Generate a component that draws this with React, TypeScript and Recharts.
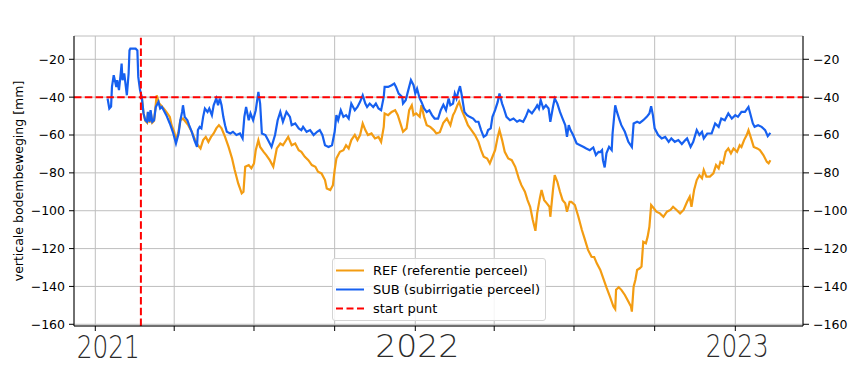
import { LineChart, Line, XAxis, YAxis, CartesianGrid, ReferenceLine, Legend } from "recharts";

// x = days since 1 Jan 2021, y = soil movement in mm
const subDay = [
  14, 16, 18, 19, 21, 24, 25, 27, 29, 30,
  31, 33, 36, 38, 39, 40, 46, 48, 49, 51,
  53, 55, 57, 59, 60, 62, 63, 65, 67, 69,
  72, 74, 76, 78, 81, 85, 89, 92, 95, 97,
  99, 100, 102, 105, 107, 110, 113, 116, 117, 119,
  121, 123, 125, 128, 130, 133, 135, 138, 140, 142,
  144, 146, 148, 150, 154, 157, 161, 165, 168, 170,
  172, 175, 177, 180, 183, 186, 188, 190, 194, 197,
  201, 205, 208, 211, 214, 218, 222, 224, 228, 232,
  235, 237, 241, 245, 249, 253, 256, 259, 262, 266,
  270, 273, 275, 277, 280, 283, 286, 289, 292, 296,
  299, 302, 305, 308, 310, 313, 317, 320, 323, 326,
  329, 330, 334, 338, 341, 343, 346, 350, 351, 354,
  357, 360, 363, 365, 367, 370, 372, 375, 378, 381,
  384, 387, 391, 394, 397, 400, 403, 405, 408, 410,
  412, 414, 416, 418, 421, 424, 427, 431, 434, 437,
  440, 443, 446, 448, 451, 453, 456, 459, 461, 464,
  466, 469, 473, 477, 481, 484, 488, 491, 494, 498,
  502, 504, 506, 508, 511, 514, 517, 519, 522, 524,
  527, 530, 533, 536, 538, 540, 542, 545, 549, 553,
  557, 560, 564, 568, 571, 574, 576, 578, 579, 581,
  583, 586, 589, 590, 593, 595, 598, 600, 604, 608,
  612, 614, 618, 621, 625, 629, 632, 634, 636, 638,
  642, 646, 650, 654, 657, 661, 665, 669, 673, 675,
  679, 682, 686, 689, 692, 694, 698, 703, 707, 711,
  714, 718, 722, 726, 730, 733, 737, 741, 745, 747,
  750, 752, 756, 760, 764, 767, 770,
];
const subMm = [
  -40.7, -46, -45, -34.6, -28.4, -34.6, -31, -36.3, -27.5, -22.3,
  -31, -27.5, -39, -27.5, -15.3, -14.4, -14.4, -15.3, -29.3, -36.3,
  -39.9, -48.6, -52.2, -53, -47.8, -53, -46.9, -53, -52.2, -45.2,
  -42.5, -46, -45.2, -46.9, -49.5, -53.9, -59.2, -64.5, -59.2, -52.2,
  -47.8, -44.3, -50.4, -52.2, -54.8, -58.3, -62.7, -66.3, -57.4, -55.7,
  -56.5, -50.4, -46, -47.8, -46, -49.5, -44.3, -40.7, -44.3, -40.7,
  -44.3, -50.4, -54.8, -58.3, -59.2, -58.3, -60, -59.2, -61.8, -50.4,
  -45.2, -52.2, -48.6, -52.2, -46.9, -37.2, -43.4, -59.2, -60, -62.7,
  -66.3, -60, -52.2, -47.8, -53, -47.8, -50.4, -54.8, -53.9, -56.5,
  -57.4, -55.7, -58.3, -57.4, -60, -58.3, -57.4, -60, -65.4, -66.3,
  -65.4, -58.3, -49.5, -52.2, -46.9, -50.4, -49.5, -51.3, -43.4, -46.9,
  -45.2, -42.5, -39, -43.4, -45.2, -43.4, -45.2, -43.4, -46, -46.9,
  -39.9, -34.6, -34.6, -33.7, -32.8, -34.6, -38.1, -39.9, -43.4, -41.6,
  -36.3, -31, -33.7, -38.1, -35.5, -40.7, -42.5, -46, -47.8, -46.9,
  -49.5, -51.3, -51.3, -46.9, -44, -46.9, -40.7, -44.3, -43.4, -38.1,
  -40.7, -37.2, -34.2, -39, -47.8, -49.5, -50.4, -51.3, -53, -53,
  -57.4, -61, -60, -57.4, -56.5, -50.4, -46.9, -42.5, -38.1, -43.4,
  -46, -50.4, -52.2, -51.3, -53, -52.2, -53, -50.4, -46.9, -48.6,
  -46, -44.3, -46, -41.6, -46, -44.3, -46, -53, -45.2, -40.7,
  -43.4, -47.8, -51.3, -54.8, -61, -54.8, -57.4, -60, -64.5, -65.4,
  -66.3, -67.1, -68, -66.6, -70.6, -68.9, -69, -68, -73.3, -77.1,
  -69.7, -66.3, -68, -59.2, -44.3, -47.8, -52.2, -54.8, -58.3, -63.6,
  -66.3, -53.9, -53, -53.6, -52.2, -50.4, -48.6, -44.8, -49.5, -56.5,
  -60, -61.8, -61, -63.6, -61.8, -63.6, -62.7, -64.8, -62.7, -61.8,
  -66.3, -63.6, -57.4, -60, -58.3, -61.8, -59.2, -59.2, -53.9, -55.7,
  -51.3, -52.2, -48.6, -51.3, -49.5, -50.4, -47.8, -47.8, -45.2, -48.6,
  -53.9, -55.7, -54.8, -55.7, -57.4, -60.6, -58.9,
];

const refDay = [
  53, 55, 57, 59, 60, 62, 63, 65, 67, 70,
  73, 78, 81, 85, 87, 90, 92, 95, 97, 100,
  103, 106, 110, 114, 117, 120, 123, 126, 129, 132,
  135, 138, 141, 144, 148, 152, 156, 159, 163, 167,
  169, 171, 175, 178, 181, 183, 186, 188, 192, 195,
  199, 203, 207, 211, 214, 220, 224, 228, 232, 235,
  239, 243, 247, 251, 254, 258, 262, 264, 268, 271,
  273, 275, 279, 283, 286, 289, 292, 296, 299, 302,
  305, 308, 311, 315, 319, 323, 326, 329, 330, 334,
  338, 342, 345, 348, 351, 355, 358, 361, 363, 366,
  370, 372, 375, 378, 382, 386, 389, 393, 397, 401,
  405, 408, 410, 413, 415, 418, 422, 425, 429, 433,
  437, 440, 443, 447, 450, 453, 456, 459, 461, 464,
  467, 471, 475, 479, 483, 486, 490, 493, 496, 499,
  502, 504, 507, 509, 512, 515, 518, 519, 522, 524,
  527, 530, 533, 536, 538, 541, 543, 547, 551, 555,
  558, 562, 566, 569, 572, 576, 579, 583, 587, 591,
  593, 594, 597, 600, 604, 608, 611, 612, 614, 616,
  618, 621, 623, 625, 628, 630, 632, 634, 637, 640,
  644, 648, 652, 656, 659, 663, 667, 671, 675, 678,
  680, 683, 686, 689, 692, 694, 697, 701, 705, 708,
  711, 713, 716, 719, 722, 725, 728, 732, 735, 737,
  740, 743, 745, 748, 751, 755, 758, 762, 766, 768, 770,
];
const refMm = [
  -40, -48.6, -52.5, -53.5, -48, -53.5, -47.5, -53.5, -52.5, -39,
  -43.4, -46, -47.8, -50.4, -54.8, -58.3, -62.7, -58, -52.2, -51.3,
  -53, -54.8, -58.3, -62.7, -65.4, -67.1, -62.7, -61, -63.6, -61,
  -59.2, -56.5, -54.8, -56.5, -61, -66.3, -72.4, -78.5, -85.6, -90.8,
  -90, -76.8, -75.9, -77.6, -75, -68, -62.7, -66.3, -68.9, -70.6,
  -73.3, -76.8, -67.1, -64.5, -65.4, -61, -65.4, -64.5, -68, -68.9,
  -71.5, -73.3, -75.9, -76.8, -79.4, -80.3, -83.8, -88.2, -89.1, -86.5,
  -78.5, -72.4, -68.9, -68, -65.4, -67.1, -62.7, -60, -62.7, -60,
  -53.9, -57.4, -60, -59.2, -61.8, -61, -63.6, -55.7, -48.6, -49.5,
  -47.8, -46.9, -49.5, -53.9, -58.3, -56.5, -46.9, -44.3, -49.5, -48.6,
  -50.4, -44.3, -50.4, -54.8, -55.7, -57.4, -59.2, -58.5, -53.5, -51.3,
  -54.8, -49.5, -47.8, -44.3, -42.5, -46.9, -51.3, -54.8, -57.4, -60,
  -63.6, -68, -71.5, -72.4, -75, -71.5, -68, -61, -57.4, -62.7,
  -68.9, -72.4, -73.3, -76.8, -82.9, -86.5, -90, -94.4, -97.9, -104.9,
  -110.6, -101.4, -93.5, -89.1, -94.4, -96.1, -97.9, -103.2, -89.1, -81.2,
  -84.7, -90, -94.4, -96.1, -100.5, -95.3, -95.3, -97, -103.2, -110.2,
  -114.6, -120.7, -124.3, -124.5, -127.8, -131.3, -135.2, -140.5, -145.4, -150.6,
  -152, -141.8, -140.4, -141.8, -144.5, -148, -150.6, -153.3, -140.1, -136.6,
  -131.3, -130.4, -129.5, -116.4, -117.2, -113.7, -108.5, -97, -98.7, -100.5,
  -101.4, -103.2, -100.5, -99.6, -97.9, -99.6, -101.4, -99.6, -95.3, -92.6,
  -97.9, -89.1, -83.8, -81.2, -82.9, -78.5, -82, -82, -80.3, -75.9,
  -77.6, -74.2, -75, -68.9, -67.1, -69.7, -67.1, -68.9, -65.4, -66.3,
  -62.7, -60, -57.4, -61.8, -66.3, -67.1, -68, -70.6, -74.2, -75, -73.3,
];

const startDay = 52; // start of subirrigation
const startLevel = -40;

const quarterTicks = [0, 90, 181, 273, 365, 455, 546, 638, 730];
const yearLabels: Record<number, string> = { 0: "2021", 365: "2022", 730: "2023" };
const yTicks = [-160, -140, -120, -100, -80, -60, -40, -20];

const legendItems = [
  { label: "REF (referentie perceel)", color: "#f39c12", dashed: false },
  { label: "SUB (subirrigatie perceel)", color: "#1660f0", dashed: false },
  { label: "start punt", color: "#ff0000", dashed: true },
];

const refData = refDay.map((d, i) => ({ day: d, mm: refMm[i] }));
const subData = subDay.map((d, i) => ({ day: d, mm: subMm[i] }));

const FONT = "DejaVu Sans";
const minus = (v: number) => (v < 0 ? `\u2212${Math.abs(v)}` : String(v));

// handwritten-looking year labels under the axis
const yearPos: Record<number, { dx: number; dy: number; w: number }> = {
  0: { dx: 13, dy: 25, w: 63 },
  365: { dx: 2, dy: 24, w: 84 },
  730: { dx: 2, dy: 24, w: 63 },
};

const YearTick = (props: any) => {
  const { x, y, payload } = props;
  const lab = yearLabels[payload.value];
  if (!lab) return <g />;
  const p = yearPos[payload.value];
  return (
    <text
      x={x + p.dx}
      y={y + p.dy}
      textAnchor="middle"
      fontSize={32}
      fontFamily={FONT}
      fontWeight={300}
      fill="#2b2b2b"
      textLength={p.w}
      lengthAdjust="spacingAndGlyphs"
    >
      {lab}
    </text>
  );
};

const LegendBox = () => (
  <div
    style={{
      width: 212,
      height: 59,
      border: "1px solid #d4d4d4",
      borderRadius: 3,
      background: "rgba(255,255,255,0.85)",
      fontFamily: FONT,
      fontSize: 13,
      color: "#000",
      paddingTop: 2,
      boxSizing: "content-box",
    }}
  >
    {legendItems.map(it => (
      <div key={it.label} style={{ height: 19, display: "flex", alignItems: "center" }}>
        <svg width={40} height={19} style={{ flex: "none" }}>
          <line
            x1={3}
            x2={31}
            y1={9.5}
            y2={9.5}
            stroke={it.color}
            strokeWidth={2}
            strokeDasharray={it.dashed ? "7 3.5" : undefined}
          />
        </svg>
        <span style={{ whiteSpace: "nowrap" }}>{it.label}</span>
      </div>
    ))}
  </div>
);

export default function App() {
  return (
    <div style={{ position: "absolute", left: 0, top: 0, width: 863, height: 365, background: "#fff" }}>
      <LineChart width={863} height={365} margin={{ top: 36, right: 0, bottom: 0, left: 0 }}>
        <CartesianGrid stroke="#bebebe" strokeWidth={1} />
        <XAxis
          dataKey="day"
          type="number"
          domain={[-24.3, 807.2]}
          ticks={quarterTicks}
          allowDataOverflow
          height={39}
          tickSize={5}
          tickMargin={2}
          tick={<YearTick />}
          tickLine={{ stroke: "#000" }}
          axisLine={{ stroke: "#000" }}
          interval={0}
        />
        <XAxis
          xAxisId="top"
          orientation="top"
          type="number"
          domain={[-24.3, 807.2]}
          height={0}
          tick={false}
          tickLine={false}
          axisLine={{ stroke: "#000" }}
        />
        <YAxis
          type="number"
          domain={[-160.9, -7.7]}
          ticks={yTicks}
          allowDataOverflow
          width={74}
          tickSize={5}
          tickMargin={4}
          tickFormatter={minus}
          tick={{ fill: "#000", fontSize: 12.5, fontFamily: FONT }}
          tickLine={{ stroke: "#000" }}
          axisLine={{ stroke: "#000" }}
          interval={0}
          label={{
            content: () => (
              <text
                x={18}
                y={181}
                transform="rotate(-90 18 181)"
                textAnchor="middle"
                dominantBaseline="central"
                fontSize={12.5}
                fontFamily={FONT}
                fill="#000"
              >
                verticale bodembeweging [mm]
              </text>
            ),
          }}
        />
        <YAxis
          yAxisId="right"
          orientation="right"
          type="number"
          domain={[-160.9, -7.7]}
          ticks={yTicks}
          allowDataOverflow
          width={60}
          tickSize={6}
          tickMargin={4}
          tickFormatter={minus}
          tick={{ fill: "#000", fontSize: 12.5, fontFamily: FONT, textAnchor: "start" }}
          tickLine={{ stroke: "#000" }}
          axisLine={{ stroke: "#000" }}
          interval={0}
        />
        <Line
          data={refData}
          dataKey="mm"
          name="REF (referentie perceel)"
          type="linear"
          stroke="#f39c12"
          strokeWidth={2.2}
          dot={false}
          isAnimationActive={false}
        />
        <Line
          data={subData}
          dataKey="mm"
          name="SUB (subirrigatie perceel)"
          type="linear"
          stroke="#1660f0"
          strokeWidth={2.2}
          dot={false}
          isAnimationActive={false}
        />
        <ReferenceLine y={startLevel} stroke="#ff0000" strokeWidth={2} strokeDasharray="7.5 3.3" />
        <ReferenceLine x={startDay} stroke="#ff0000" strokeWidth={2} strokeDasharray="7.5 3.3" />
        <Legend
          layout="horizontal"
          verticalAlign="middle"
          align="center"
          content={() => <LegendBox />}
          wrapperStyle={{ position: "absolute", left: 332, top: 258, width: 214, height: 61 }}
        />
      </LineChart>
    </div>
  );
}
